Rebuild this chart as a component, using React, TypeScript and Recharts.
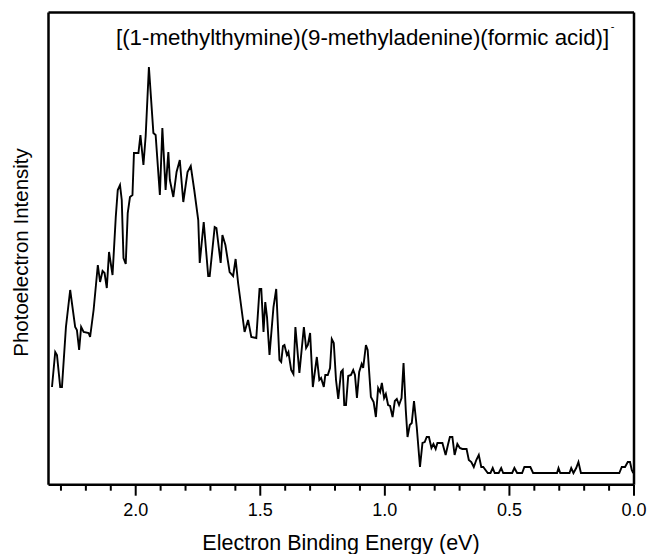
import React from "react";
import { LineChart, Line, XAxis, YAxis, Label } from "recharts";

const energy = [
  2.336, 2.323, 2.316, 2.303, 2.296, 2.280, 2.263, 2.243, 2.236, 2.227,
  2.219, 2.209, 2.189, 2.183, 2.169, 2.152, 2.143, 2.133, 2.125, 2.116,
  2.107, 2.093, 2.080, 2.072, 2.063, 2.056, 2.049, 2.040, 2.032, 2.023,
  2.013, 2.007, 1.989, 1.981, 1.969, 1.960, 1.947, 1.929, 1.920, 1.903,
  1.893, 1.880, 1.869, 1.863, 1.849, 1.836, 1.823, 1.809, 1.792, 1.779,
  1.765, 1.749, 1.743, 1.727, 1.709, 1.703, 1.683, 1.676, 1.659, 1.652,
  1.640, 1.623, 1.609, 1.599, 1.589, 1.563, 1.549, 1.536, 1.516, 1.503,
  1.496, 1.487, 1.480, 1.473, 1.463, 1.447, 1.436, 1.423, 1.416, 1.409,
  1.403, 1.393, 1.387, 1.376, 1.367, 1.359, 1.343, 1.325, 1.316, 1.309,
  1.300, 1.289, 1.273, 1.263, 1.256, 1.245, 1.239, 1.229, 1.220, 1.213,
  1.205, 1.196, 1.187, 1.176, 1.169, 1.163, 1.156, 1.147, 1.136, 1.127,
  1.120, 1.112, 1.103, 1.093, 1.087, 1.076, 1.069, 1.056, 1.045, 1.036,
  1.027, 1.019, 1.012, 1.003, 0.996, 0.987, 0.979, 0.969, 0.960, 0.952,
  0.943, 0.933, 0.925, 0.916, 0.909, 0.900, 0.892, 0.883, 0.872, 0.859,
  0.849, 0.840, 0.832, 0.823, 0.813, 0.805, 0.796, 0.789, 0.769, 0.756,
  0.747, 0.739, 0.729, 0.720, 0.709, 0.699, 0.689, 0.672, 0.663, 0.653,
  0.643, 0.633, 0.623, 0.613, 0.605, 0.587, 0.576, 0.567, 0.559, 0.543,
  0.533, 0.525, 0.489, 0.480, 0.469, 0.449, 0.440, 0.416, 0.405, 0.309,
  0.303, 0.296, 0.259, 0.252, 0.243, 0.232, 0.223, 0.213, 0.059, 0.049,
  0.036, 0.025, 0.016, 0.009, 0.003,
];

const intensity = [
  86, 121, 118, 86, 86, 146, 183, 146, 143, 123,
  146, 141, 140, 136, 163, 208, 191, 202, 200, 185,
  221, 198, 256, 283, 288, 273, 215, 209, 260, 276,
  278, 320, 320, 338, 308, 337, 406, 340, 338, 278,
  345, 283, 321, 293, 276, 301, 313, 271, 301, 307,
  283, 253, 210, 251, 197, 197, 246, 245, 210, 238,
  228, 201, 197, 214, 190, 141, 153, 136, 135, 184,
  184, 141, 171, 156, 118, 166, 184, 113, 111, 127,
  128, 118, 121, 103, 99, 146, 100, 146, 125, 128,
  140, 86, 116, 93, 95, 86, 98, 98, 105, 134,
  130, 93, 74, 101, 103, 68, 68, 97, 98, 103,
  98, 75, 101, 109, 105, 128, 123, 76, 71, 56,
  85, 81, 90, 75, 79, 68, 67, 56, 72, 74,
  68, 75, 110, 63, 36, 48, 50, 72, 46, 6,
  30, 31, 36, 36, 25, 29, 24, 30, 30, 18,
  28, 36, 36, 18, 29, 25, 24, 24, 13, 11,
  6, 13, 18, 6, 6, 0, 0, 5, 0, 0,
  5, 0, 0, 5, 0, 0, 6, 6, 0, 0,
  5, 0, 0, 5, 0, 5, 11, 0, 0, 6,
  6, 11, 11, 3, 0,
];

const xTicks = [
  0, 0.1, 0.2, 0.3, 0.4, 0.5, 0.6, 0.7, 0.8, 0.9, 1.0, 1.1,
  1.2, 1.3, 1.4, 1.5, 1.6, 1.7, 1.8, 1.9, 2.0, 2.1, 2.2, 2.3,
];
const majorTicks = [0, 0.5, 1.0, 1.5, 2.0];
const xDomain = [0, 2.35];
const yDomain = [-11.7, 460.5];

const titleText = "[(1-methylthymine)(9-methyladenine)(formic acid)]";
const xTitle = "Electron Binding Energy (eV)";
const yTitle = "Photoelectron Intensity";

const data = energy.map((e, i) => ({ eV: e, counts: intensity[i] }));

const FONT = "'Liberation Sans', Arial, Helvetica, sans-serif";

const BottomTick = (props: any) => {
  const { x, y, payload } = props;
  const v = payload.value;
  const isMajor = majorTicks.some((m) => Math.abs(m - v) < 1e-6);
  return (
    <g>
      <line
        x1={x}
        x2={x}
        y1={y}
        y2={y + (isMajor ? 11 : 6)}
        stroke="#000"
        strokeWidth={2}
      />
      {isMajor && (
        <text
          x={x}
          y={y + 31.5}
          textAnchor="middle"
          fontFamily={FONT}
          fontSize={18}
          fill="#000"
        >
          {v.toFixed(1)}
        </text>
      )}
    </g>
  );
};

export default function App() {
  return (
    <div style={{ position: "absolute", left: 0, top: 0, background: "#fff" }}>
      <LineChart
        width={648}
        height={554}
        data={data}
        margin={{ top: 0, right: 0, bottom: 0, left: 0 }}
      >
        <XAxis
          xAxisId="bottom"
          dataKey="eV"
          type="number"
          domain={xDomain}
          reversed
          allowDataOverflow
          ticks={xTicks}
          interval={0}
          orientation="bottom"
          height={69.3}
          axisLine={{ stroke: "#000", strokeWidth: 2.5 }}
          tickLine={false}
          tickSize={0}
          tickMargin={0}
          tick={<BottomTick />}
        >
          <Label
            content={() => (
              <text
                x={341}
                y={550}
                textAnchor="middle"
                fontFamily={FONT}
                fontSize={21.5}
                fill="#000"
              >
                {xTitle}
              </text>
            )}
          />
        </XAxis>
        <XAxis
          xAxisId="top"
          dataKey="eV"
          type="number"
          domain={xDomain}
          reversed
          allowDataOverflow
          orientation="top"
          height={12.5}
          axisLine={{ stroke: "#000", strokeWidth: 2.5 }}
          tick={false}
          tickLine={false}
        >
          <Label
            content={() => (
              <text x={116} y={45} fontFamily={FONT} fontSize={22.3} fill="#000">
                {titleText}
                <tspan dx={1.5} dy={-15} fontSize={11}>
                  -
                </tspan>
              </text>
            )}
          />
        </XAxis>
        <YAxis
          yAxisId="left"
          type="number"
          domain={yDomain}
          allowDataOverflow
          orientation="left"
          width={48.5}
          axisLine={{ stroke: "#000", strokeWidth: 2.5 }}
          tick={false}
          tickLine={false}
        >
          <Label
            content={() => (
              <text
                x={28}
                y={252.5}
                transform="rotate(-90 28 252.5)"
                textAnchor="middle"
                fontFamily={FONT}
                fontSize={20.5}
                fill="#000"
              >
                {yTitle}
              </text>
            )}
          />
        </YAxis>
        <YAxis
          yAxisId="right"
          type="number"
          domain={yDomain}
          allowDataOverflow
          orientation="right"
          width={14}
          axisLine={{ stroke: "#000", strokeWidth: 2.5 }}
          tick={false}
          tickLine={false}
        />
        <Line
          xAxisId="bottom"
          yAxisId="left"
          dataKey="counts"
          type="linear"
          stroke="#000"
          strokeWidth={1.9}
          dot={false}
          activeDot={false}
          isAnimationActive={false}
        />
      </LineChart>
    </div>
  );
}
